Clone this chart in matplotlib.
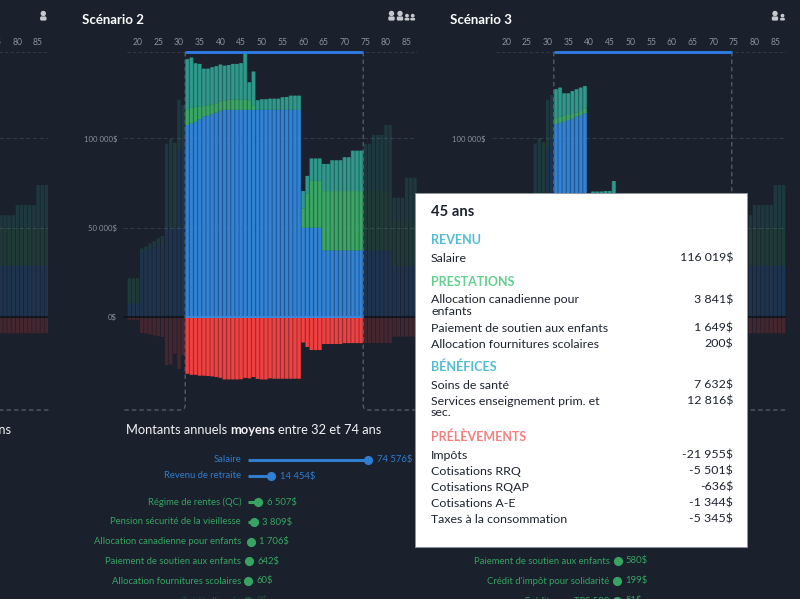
import numpy as np
import matplotlib
matplotlib.use("Agg")
import matplotlib.pyplot as plt
from matplotlib.patches import Rectangle, Circle, FancyBboxPatch, PathPatch
from matplotlib.path import Path

plt.rcParams['font.family'] = ['Lato', 'DejaVu Sans']

# ---------- data (thousands of dollars) ----------
ages_s2 = list(range(18, 88))
salaire_s2 = [7.6]*3 + [36, 37, 38, 39, 40, 41] + [50, 50, 50, 95, 100] + \
    [107.5, 108.4, 109.4, 110.7, 112.2, 112.7, 113.5, 114.4, 115.5] + [116.0]*19 + \
    [50]*5 + [37.3]*10 + [37.3]*7 + [28.7]*6
prestations_s2 = [14.0]*3 + [0]*6 + [0, 0, 47, 5, 0] + \
    [8.8, 8.8, 8.4, 7.1, 5.9, 5.8, 5.6, 5.2, 5.1, 5.3, 5.7, 5.7, 5.7, 5.7, 5.7, 5.3, 2.5] + [0]*11 + \
    [10.8, 19.2, 26.3, 26.3, 26.3] + [33.2]*10 + [33.2]*7 + [25]*6
benefices_s2 = [0.1]*3 + [2.4, 2.4, 3.3, 3.6, 4.1, 4.4] + [47, 49.7, 0.6, 21.7, 18.7] + \
    [28.0, 28.0, 24.2, 23.9, 20.9, 20.5, 20.7, 20.8, 20.7, 19.4, 19.4, 20.0, 20.0, 20.4, 26.3, 10.1, 18.9,
     5.3, 5.9, 5.9, 6.2, 6.2, 6.2, 7.0, 7.2, 7.9, 7.9, 7.9] + \
    [9.7, 9.8, 12.4, 12.4, 12.4, 15.2, 15.2, 17.2, 17.2, 17.2, 18.9, 18.9, 22.6, 22.6, 22.6] + \
    [26.5, 26.5, 31.5, 31.5, 31.5, 37, 37, 13.1, 13.1, 13.1, 24.3, 24.3, 24.3]
prelevements_s2 = [1.5]*3 + [9, 9.3, 9.7, 10.3, 10.8, 11.2, 27, 26.5, 20.5, 29.1, 21.5] + \
    [31.7, 32.3, 32.3, 32.8, 32.8, 33.0, 33.2, 33.6, 34.0, 34.9, 34.9, 34.9, 34.9, 34.8, 34.0, 34.3, 33.6,
     34.7, 34.9, 34.9, 34.3, 34.5, 34.5, 34.5, 34.5, 34.5, 34.5, 34.5] + \
    [14.2, 16.8, 18.5, 18.5, 18.5, 15.1, 15.1, 15.1, 15.1, 15.1, 14.6, 14.6, 14.6, 14.6, 14.6] + \
    [14.6]*7 + [11]*6

ages_s3 = list(range(27, 47))
salaire_s3 = [50, 50, 50, 95, 100, 107.9, 108.8, 109.4, 110.3, 111.2, 112.2, 113.1, 114.0,
              50, 50, 50, 50, 50, 50, 50]
prestations_s3 = [0, 0, 47, 5, 0, 3.3, 3.4, 3.3, 2.8, 2.5, 2.2, 2.2, 2.8, 5, 5, 5, 5, 5, 5, 5]
benefices_s3 = [47, 50, 1, 21.7, 24.3, 16.3, 16.2, 12.5, 12.1, 12.8, 13.1, 13.1, 12.5,
                14, 15.2, 15.2, 15.2, 15.5, 15.5, 21.1]
prelevements_s3 = [0]*20

ages_tail = list(range(75, 88))
salaire_tail = [28.7]*13
prestations_tail = [21.3]*13
benefices_tail = [7]*5 + [12.7]*5 + [23.9]*3
prelevements_tail = [9.1]*13

labels_s2 = ["Salaire", "Revenu de retraite", "Régime de rentes (QC)",
             "Pension sécurité de la vieillesse", "Allocation canadienne pour enfants",
             "Paiement de soutien aux enfants", "Allocation fournitures scolaires", "Crédit d'impôt"]
values_s2 = [74576, 14454, 6507, 3809, 1706, 642, 60, 30]
texts_s2 = ["74 576$", "14 454$", "6 507$", "3 809$", "1 706$", "642$", "60$", "0$"]
kinds_s2 = ["blue", "blue", "green", "green", "green", "green", "green", "green"]
labels_s3 = ["Paiement de soutien aux enfants", "Crédit d'impôt pour solidarité", "Crédit pour TPS 580"]
values_s3 = [580, 199, 51]
texts_s3 = ["580$", "199$", "51$"]

xticks = list(range(20, 90, 5))
xticks_s1 = [75, 80, 85]
yticks = [0, 50, 100]
ytick_labels = ["0$", "50 000$", "100 000$"]
yticks_s3 = [100]
ytick_labels_s3 = ["100 000$"]

tooltip_title = "45 ans"
tt_revenu = [("Salaire", "116 019$")]
tt_prestations = [("Allocation canadienne pour\nenfants", "3 841$"),
                  ("Paiement de soutien aux enfants", "1 649$"),
                  ("Allocation fournitures scolaires", "200$")]
tt_benefices = [("Soins de santé", "7 632$"),
                ("Services enseignement prim. et\nsec.", "12 816$")]
tt_prelevements = [("Impôts", "-21 955$"), ("Cotisations RRQ", "-5 501$"),
                   ("Cotisations RQAP", "-636$"), ("Cotisations A-E", "-1 344$"),
                   ("Taxes à la consommation", "-5 345$")]

# ---------- style ----------
BG = '#1a202c'
BLUE, GREEN, TEAL, RED = '#3083d6', '#3aa864', '#2f9a8c', '#f23f3f'
GRID = '#303848'
TICK = '#8d939d'
DASH = '#5a606c'
W, H = 800, 599
PX_PER_YEAR = 4.14
PX_PER_K = 1.786
PERIOD = 368.6

fig = plt.figure(figsize=(8.0, 5.99), dpi=100, facecolor=BG)


def panel(off, ages, sal, pre, ben, prel, xt, yt, ytl):
    left, right, top, bottom = 123 + off, 417 + off, 52, 410
    ax = fig.add_axes([left / W, 1 - bottom / H, (right - left) / W, (bottom - top) / H])
    ax.set_facecolor('none')
    x0 = 30 + (123 - 179) / PX_PER_YEAR
    x1 = 30 + (417 - 179) / PX_PER_YEAR
    ymin, ymax = (317 - 410) / PX_PER_K, (317 - 52) / PX_PER_K
    ax.set_xlim(x0, x1)
    ax.set_ylim(ymin, ymax)
    for s in ax.spines.values():
        s.set_visible(False)
    ages = np.array(ages, float)
    sal, pre, ben, prel = [np.array(v, float) for v in (sal, pre, ben, prel)]
    active = (ages >= 32) & (ages <= 74)
    for mask, alpha, width in ((~active, 0.2, 0.82), (active, 0.68, 1.0), (active, 1.0, 0.68)):
        a = ages[mask]
        kw = dict(width=width, alpha=alpha, linewidth=0, snap=False, zorder=3)
        ax.bar(a, sal[mask], color=BLUE, **kw)
        ax.bar(a, pre[mask], bottom=sal[mask], color=GREEN, **kw)
        ax.bar(a, ben[mask], bottom=(sal + pre)[mask], color=TEAL, **kw)
        ax.bar(a, -prel[mask], color=RED, **kw)
    ax.set_xticks(xt)
    ax.set_xticklabels([str(t) for t in xt])
    ax.xaxis.tick_top()
    ax.tick_params(axis='x', length=0, pad=3.4, labelsize=6.2, labelcolor=TICK)
    ax.set_yticks(yt)
    ax.set_yticklabels(ytl)
    ax.tick_params(axis='y', length=0, pad=4.3, labelsize=5.6, labelcolor=TICK)
    ax.hlines([50, 100], x0, x1, color=GRID, lw=0.8, linestyles=(0, (4, 2)), zorder=2)
    ax.hlines(0, x0, x1, color='#0e1218', lw=1.2, zorder=4)
    ax.hlines(0, 31.5, 74.5, color='#3a8ae0', lw=1.4, zorder=5)
    ax.hlines(ymax, x0 + 1, x1, color=GRID, lw=0.8, linestyles=(0, (3, 2)), zorder=2, clip_on=False)
    ax.hlines(ymax, 31.5, 74.5, color='#2f7fe8', lw=2.0, zorder=6, clip_on=False)
    return ax


panel(-PERIOD, ages_tail, salaire_tail, prestations_tail, benefices_tail, prelevements_tail,
      xticks_s1, [], [])
panel(0, ages_s2, salaire_s2, prestations_s2, benefices_s2, prelevements_s2,
      xticks, yticks, ytick_labels)
panel(PERIOD, ages_s3 + ages_tail, salaire_s3 + salaire_tail, prestations_s3 + prestations_tail,
      benefices_s3 + benefices_tail, prelevements_s3 + prelevements_tail,
      xticks, yticks_s3, ytick_labels_s3)


def lollipop(off, ys, labels, values, texts, kinds, alphas):
    left = 248 + off
    ax = fig.add_axes([left / W, 0, 160 / W, 160 / H])
    ax.set_facecolor('none')
    ax.axis('off')
    ax.set_xlim(0, 160 / 1.613)
    ax.set_ylim(599, 439)
    cols = {'blue': '#2f7ed0', 'green': '#37a462'}
    for y, lab, v, t, k, al in zip(ys, labels, values, texts, kinds, alphas):
        c = cols[k]
        vk = v / 1000
        ax.hlines(y, 0, vk, color=c, lw=2.2, alpha=al)
        ax.plot([vk], [y], 'o', ms=6.6, color=c, mec='none', alpha=al, clip_on=False)
        ax.annotate(lab, (0, y), xytext=(-5, 0), textcoords='offset points', ha='right', va='center',
                    color=c, fontsize=6.85, alpha=al, annotation_clip=False)
        ax.annotate(t, (vk, y), xytext=(6, 0), textcoords='offset points', ha='left', va='center',
                    color=c, fontsize=6.85, alpha=al, annotation_clip=False)
    return ax


lollipop(0, [459.5, 476, 502, 522, 541.7, 561.3, 581, 601], labels_s2, values_s2, texts_s2, kinds_s2,
         [1, 1, 1, 1, 1, 1, 1, 0.35])
lollipop(PERIOD, [561, 581, 601], labels_s3, values_s3, texts_s3, ['green'] * 3, [1, 1, 1])

# ---------- overlay in pixel coordinates ----------
ov = fig.add_axes([0, 0, 1, 1], zorder=20)
ov.set_xlim(0, W)
ov.set_ylim(H, 0)
ov.axis('off')
ov.patch.set_alpha(0)


def frame(off):
    la, ra = 185.2 + off, 363.2 + off
    r = 5
    dash = dict(facecolor='none', edgecolor=DASH, lw=0.9, linestyle=(0, (3.5, 2.5)), zorder=1)
    pl = Path([(la, 52), (la, 410 - r), (la, 410), (la - r, 410), (123 + off, 410)],
              [Path.MOVETO, Path.LINETO, Path.CURVE3, Path.CURVE3, Path.LINETO])
    pr = Path([(ra, 52), (ra, 410 - r), (ra, 410), (ra + r, 410), (417 + off, 410)],
              [Path.MOVETO, Path.LINETO, Path.CURVE3, Path.CURVE3, Path.LINETO])
    ov.add_patch(PathPatch(pl, **dash))
    ov.add_patch(PathPatch(pr, **dash))


def person(x, big=True):
    c = '#c5c8cd'
    if big:
        ov.add_patch(Circle((x, 13.5), 2.7, fc=c, ec='none', zorder=2))
        ov.add_patch(FancyBboxPatch((x - 2.6, 17), 5.2, 3, boxstyle='round,pad=0.6,rounding_size=1.4',
                                    fc=c, ec='none', zorder=2))
    else:
        ov.add_patch(Circle((x, 15.7), 1.9, fc=c, ec='none', zorder=2))
        ov.add_patch(FancyBboxPatch((x - 1.9, 18.4), 3.8, 1.6, boxstyle='round,pad=0.5,rounding_size=1.0',
                                    fc=c, ec='none', zorder=2))


for off in (-PERIOD, 0, PERIOD):
    frame(off)

person(43.3)
for x in (391.5, 400):
    person(x)
for x in (407, 412.7):
    person(x, big=False)
person(775)
person(782.5, big=False)

for x, s in ((81.5, "Scénario 2"), (450.3, "Scénario 3")):
    ov.text(x, 20, s, color='white', fontsize=9.5, fontweight='bold', ha='left', va='center')


def heading(off):
    y = 430
    kw = dict(color='#f2f3f5', fontsize=9.3, va='center', ha='left', zorder=3)
    ov.text(126 + off, y, "Montants annuels", **kw)
    ov.text(230 + off, y, "moyens", fontweight='bold', **kw)
    ov.text(278.5 + off, y, "entre 32 et 74 ans", **kw)


heading(0)
ov.text(12, 430, "ans", color='#f2f3f5', fontsize=9.3, va='center', ha='right')

# tooltip
ov.add_patch(Rectangle((415, 193), 332, 354, fc='white', ec='#8f95a0', lw=0.7, zorder=5))
DARK = '#1d2330'
ov.text(431, 212.5, tooltip_title, color=DARK, fontsize=10.6, fontweight='bold', va='center', zorder=6)


def section(title, col, ytitle, rows, ys):
    ov.text(431, ytitle + 0.6, title, color=col, fontsize=9, fontweight='bold', va='center', zorder=6)
    for (lab, val), y in zip(rows, ys):
        ov.text(431, y + 0.7, lab, color=DARK, fontsize=8.95, va='top', linespacing=1.05, zorder=6)
        ov.text(733, y + 0.7, val, color=DARK, fontsize=8.95, va='top', ha='right', zorder=6)


section("REVENU", '#52bcd2', 239, tt_revenu, [252])
section("PRESTATIONS", '#62d08f', 281, tt_prestations, [293.5, 322, 338])
section("BÉNÉFICES", '#52bcd2', 366, tt_benefices, [379, 395])
section("PRÉLÈVEMENTS", '#f58080', 436, tt_prelevements, [449, 465, 481, 497, 513])

fig.savefig('out.png', dpi=100, facecolor=BG)
